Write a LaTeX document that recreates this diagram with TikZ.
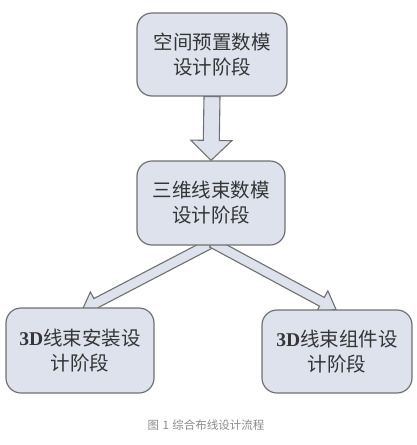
\documentclass[tikz,border=0pt]{standalone}
\usepackage{fontspec}
\newfontfamily\cjk{Noto Sans CJK SC}
\newfontfamily\latn{Liberation Serif}
\usetikzlibrary{calc,backgrounds}
\definecolor{boxfill}{HTML}{DDE2ED}
\definecolor{boxline}{HTML}{707070}
\definecolor{txt}{HTML}{353535}
\definecolor{captxt}{HTML}{8A8A8A}
\tikzset{
  stagebox/.style={draw=boxline, fill=boxfill, line width=1.2pt, rounded corners=15pt,
    align=center, text=txt, font=\cjk\fontsize{19.5}{25}\selectfont, inner sep=0pt},
  blockarr/.style={draw=boxline, fill=boxfill, line width=1.1pt, line join=miter},
  caption/.style={text=captxt, font=\cjk\fontsize{11.5}{13}\selectfont, inner sep=0pt}
}
\newcommand\blockarrow[5]{%
  \coordinate (ba-c) at ($(#2)!#5!(#1)$);
  \draw[blockarr] ($(#1)!#3!90:(#2)$) -- ($(ba-c)!#3!90:(#2)$) -- ($(ba-c)!#4!90:(#2)$)
    -- (#2) -- ($(ba-c)!#4!-90:(#2)$) -- ($(ba-c)!#3!-90:(#2)$) -- ($(#1)!#3!-90:(#2)$) -- cycle;
}
\begin{document}
\begin{tikzpicture}[x=1pt,y=-1pt]
\useasboundingbox (0,0) rectangle (416,445);
\node[stagebox, minimum width=150pt, minimum height=83pt] (top) at (212,54.5) {空间预置数模\\设计阶段};
\node[stagebox, minimum width=148pt, minimum height=84pt] (mid) at (211,203) {三维线束数模\\设计阶段};
\node[stagebox, minimum width=148pt, minimum height=85pt] (bl) at (80,350.5) {{\latn\bfseries 3D}线束安装设\\计阶段};
\node[stagebox, minimum width=150pt, minimum height=83pt] (br) at (337,351.5) {{\latn\bfseries 3D}线束组件设\\计阶段};
\node[caption] (cap) at (206,425) {图\hspace{3.5pt}1\hspace{3.5pt}综合布线设计流程};
\begin{scope}[on background layer]
\blockarrow{top.south}{mid.north}{8pt}{20.5pt}{20pt}
\coordinate (ms) at ($(mid.south)+(1,-3)$);
\coordinate (blt) at ($(bl.north)+(2,3)$);
\coordinate (brt) at ($(br.north)+(-1,0)$);
\blockarrow{ms}{blt}{5pt}{12.5pt}{16pt}
\blockarrow{ms}{brt}{5pt}{12.5pt}{16pt}
\end{scope}
\end{tikzpicture}
\end{document}
